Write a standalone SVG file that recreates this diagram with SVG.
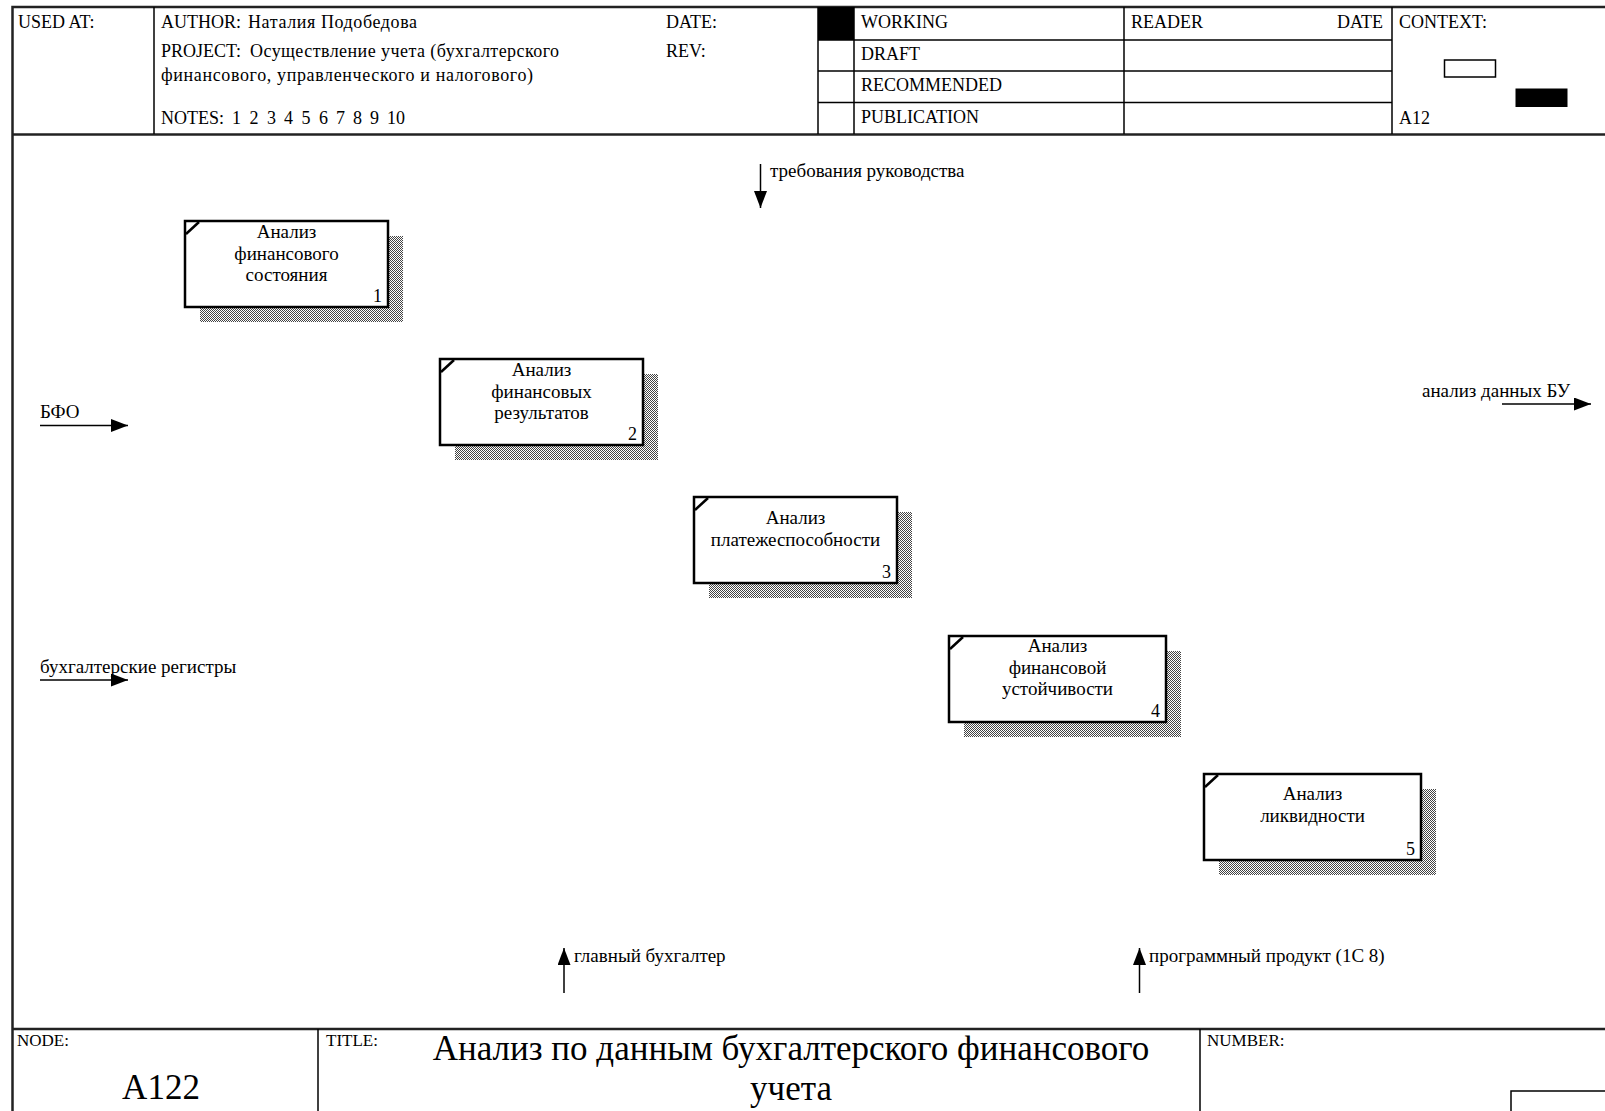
<svg xmlns="http://www.w3.org/2000/svg" width="1605" height="1111" viewBox="0 0 1605 1111">
  <defs>
    <style>
      text { font-family: "Liberation Serif", "Times New Roman", serif; fill: #000; }
      .hdr { font-size: 18px; }
      .lbl { font-size: 19px; }
      .ftr { font-size: 17px; }
      .big { font-size: 35px; }
      .ctr { text-anchor: middle; }
      .num { font-size: 18px; text-anchor: end; }
      .box { fill: #fff; stroke: #000; stroke-width: 2.5; }
      .shadow { fill: url(#hatch); }
      .corner { stroke: #000; stroke-width: 2.5; }
      .frame { fill: none; stroke: #222; stroke-width: 2.5; }
      .rule { fill: none; stroke: #000; stroke-width: 1.5; }
      .arrow { fill: none; stroke: #000; stroke-width: 1.5; marker-end: url(#head); }
    </style>
    <!-- dithered drop shadow texture -->
    <pattern id="hatch" width="2" height="2" patternUnits="userSpaceOnUse">
      <rect x="0" y="0" width="1" height="1" fill="#444"/>
      <rect x="1" y="1" width="1" height="1" fill="#444"/>
    </pattern>
    <marker id="head" markerWidth="17" markerHeight="13" refX="17" refY="6.5" orient="auto" markerUnits="userSpaceOnUse">
      <path d="M0,0 L17,6.5 L0,13 Z" fill="#000"/>
    </marker>
  </defs>

  <rect width="1605" height="1111" fill="#fff"/>

  <!-- sheet frame -->
  <g id="frame">
    <rect class="frame" x="12.5" y="7" width="1610" height="1120"/>
    <line class="frame" x1="12.5" y1="134.5" x2="1620" y2="134.5"/>
    <line class="frame" x1="12.5" y1="1029" x2="1620" y2="1029"/>
  </g>

  <!-- header block -->
  <g id="header">
    <line class="rule" x1="154" y1="7" x2="154" y2="134"/>
    <line class="rule" x1="818" y1="7" x2="818" y2="134"/>
    <line class="rule" x1="854" y1="7" x2="854" y2="134"/>
    <line class="rule" x1="1124" y1="7" x2="1124" y2="134"/>
    <line class="rule" x1="1392" y1="7" x2="1392" y2="134"/>
    <line class="rule" x1="818" y1="40" x2="1392" y2="40"/>
    <line class="rule" x1="818" y1="71" x2="1392" y2="71"/>
    <line class="rule" x1="818" y1="102.5" x2="1392" y2="102.5"/>
    <rect x="818" y="7" width="36" height="33" fill="#000"/>

    <text class="hdr" x="18" y="28">USED AT:</text>
    <text class="hdr" x="161" y="28">AUTHOR:<tspan x="248" textLength="169">Наталия Подобедова</tspan></text>
    <text class="hdr" x="666" y="28">DATE:</text>
    <text class="hdr" x="666" y="57">REV:</text>
    <text class="hdr" x="161" y="57">PROJECT:<tspan x="250" textLength="309">Осуществление учета (бухгалтерского</tspan></text>
    <text class="hdr" x="161" y="81" textLength="372">финансового, управленческого и налогового)</text>
    <text class="hdr" x="161" y="124">NOTES:<tspan x="232">1</tspan><tspan x="249.5">2</tspan><tspan x="267">3</tspan><tspan x="284">4</tspan><tspan x="301.5">5</tspan><tspan x="319">6</tspan><tspan x="336">7</tspan><tspan x="353">8</tspan><tspan x="370">9</tspan><tspan x="387">10</tspan></text>

    <text class="hdr" x="861" y="28">WORKING</text>
    <text class="hdr" x="861" y="60">DRAFT</text>
    <text class="hdr" x="861" y="91">RECOMMENDED</text>
    <text class="hdr" x="861" y="123">PUBLICATION</text>
    <text class="hdr" x="1131" y="28">READER</text>
    <text class="hdr" x="1383" y="28" text-anchor="end">DATE</text>

    <text class="hdr" x="1399" y="28">CONTEXT:</text>
    <rect x="1444.5" y="60" width="51" height="17" fill="#fff" stroke="#000" stroke-width="1.5"/>
    <rect x="1515.5" y="88.5" width="52" height="18.5" fill="#000"/>
    <text class="hdr" x="1399" y="124">A12</text>
  </g>

  <!-- activity boxes -->
  <g id="node-1">
    <rect class="shadow" x="200" y="236" width="203" height="86"/>
    <rect class="box" x="185" y="221" width="203" height="86"/>
    <line class="corner" x1="186" y1="234" x2="199" y2="222"/>
    <text class="lbl ctr" x="286.5" y="238">Анализ</text>
    <text class="lbl ctr" x="286.5" y="259.5">финансового</text>
    <text class="lbl ctr" x="286.5" y="281">состояния</text>
    <text class="num" x="382" y="302">1</text>
  </g>

  <g id="node-2">
    <rect class="shadow" x="455" y="374" width="203" height="86"/>
    <rect class="box" x="440" y="359" width="203" height="86"/>
    <line class="corner" x1="441" y1="372" x2="454" y2="360"/>
    <text class="lbl ctr" x="541.5" y="376">Анализ</text>
    <text class="lbl ctr" x="541.5" y="397.5">финансовых</text>
    <text class="lbl ctr" x="541.5" y="419">результатов</text>
    <text class="num" x="637" y="440">2</text>
  </g>

  <g id="node-3">
    <rect class="shadow" x="709" y="512" width="203" height="86"/>
    <rect class="box" x="694" y="497" width="203" height="86"/>
    <line class="corner" x1="695" y1="510" x2="708" y2="498"/>
    <text class="lbl ctr" x="795.5" y="524">Анализ</text>
    <text class="lbl ctr" x="795.5" y="545.5">платежеспособности</text>
    <text class="num" x="891" y="578">3</text>
  </g>

  <g id="node-4">
    <rect class="shadow" x="964" y="651" width="217" height="86"/>
    <rect class="box" x="949" y="636" width="217" height="86"/>
    <line class="corner" x1="950" y1="649" x2="963" y2="637"/>
    <text class="lbl ctr" x="1057.5" y="652">Анализ</text>
    <text class="lbl ctr" x="1057.5" y="673.5">финансовой</text>
    <text class="lbl ctr" x="1057.5" y="695">устойчивости</text>
    <text class="num" x="1160" y="717">4</text>
  </g>

  <g id="node-5">
    <rect class="shadow" x="1219" y="789" width="217" height="86"/>
    <rect class="box" x="1204" y="774" width="217" height="86"/>
    <line class="corner" x1="1205" y1="787" x2="1218" y2="775"/>
    <text class="lbl ctr" x="1312.5" y="800">Анализ</text>
    <text class="lbl ctr" x="1312.5" y="821.5">ликвидности</text>
    <text class="num" x="1415" y="855">5</text>
  </g>

  <!-- boundary arrows -->
  <g id="connectors">
    <line class="arrow" x1="760.5" y1="164" x2="760.5" y2="208"/>
    <text class="lbl" x="770" y="177">требования руководства</text>

    <line class="arrow" x1="40" y1="425.5" x2="128" y2="425.5"/>
    <text class="lbl" x="40" y="418">БФО</text>

    <line class="arrow" x1="40" y1="680" x2="128" y2="680"/>
    <text class="lbl" x="40" y="673">бухгалтерские регистры</text>

    <line class="arrow" x1="1502" y1="404" x2="1591" y2="404"/>
    <text class="lbl" x="1422" y="397">анализ данных БУ</text>

    <line class="arrow" x1="564" y1="993" x2="564" y2="948"/>
    <text class="lbl" x="574" y="962">главный бухгалтер</text>

    <line class="arrow" x1="1139.5" y1="993" x2="1139.5" y2="948"/>
    <text class="lbl" x="1149" y="962">программный продукт (1С 8)</text>
  </g>

  <!-- footer block -->
  <g id="footer">
    <line class="rule" x1="318" y1="1029" x2="318" y2="1120"/>
    <line class="rule" x1="1200" y1="1029" x2="1200" y2="1120"/>
    <text class="ftr" x="17" y="1046">NODE:</text>
    <text class="ftr" x="326" y="1046">TITLE:</text>
    <text class="ftr" x="1207" y="1046">NUMBER:</text>
    <text class="big ctr" x="161" y="1099">A122</text>
    <text class="big ctr" x="791" y="1060">Анализ по данным бухгалтерского финансового</text>
    <text class="big ctr" x="791" y="1100">учета</text>
    <rect x="1511" y="1091" width="150" height="40" fill="none" stroke="#000" stroke-width="1.5"/>
  </g>
</svg>
